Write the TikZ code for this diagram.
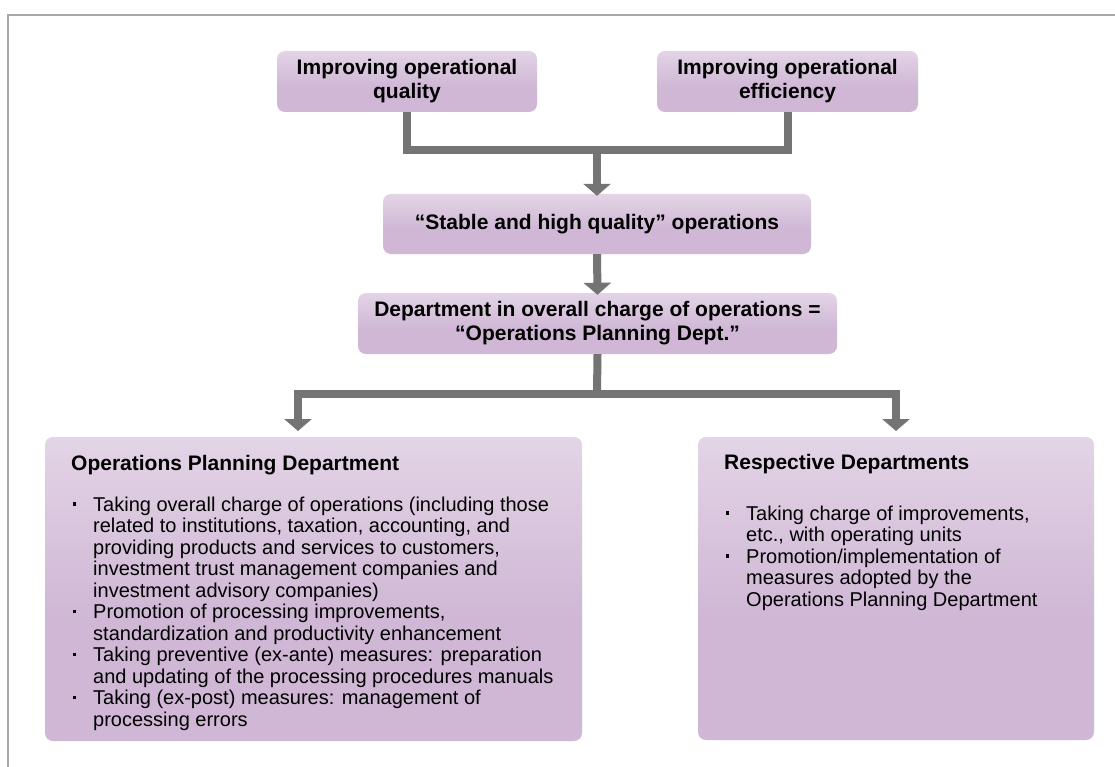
\documentclass[tikz,border=0pt]{standalone}
\usepackage{fontspec}
\setmainfont{Liberation Sans}
\usetikzlibrary{arrows.meta}

\definecolor{boxtop}{HTML}{F4ECF4}
\definecolor{boxbot}{HTML}{CFB7D5}
\definecolor{linkgray}{HTML}{747474}
\definecolor{framegray}{HTML}{A8A8A8}

\pgfdeclareverticalshading{panelshade}{100bp}{%
  color(0bp)=(boxbot); color(45bp)=(boxbot); color(100bp)=(boxtop)}

% small square bullet
\newcommand\bmark{\rule[5.5pt]{3.2pt}{3.2pt}}
% one bulleted paragraph, lines broken by hand with \\
\newcommand\bpara[1]{\noindent\hangindent=22pt\hangafter=1
  \makebox[22pt][l]{\hspace{2pt}\bmark}#1\par}
\newcommand\headfont{\bfseries\fontsize{21}{24}\selectfont}
\newcommand\bodyfont{\fontsize{20}{21.5}\selectfont}

\begin{document}
\begin{tikzpicture}[x=1pt,y=-1pt,
  panel/.style={rounded corners=8pt, shading=panelshade, inner sep=0pt,
    align=center, font=\headfont},
  link/.style={draw=linkgray, line width=8pt},
  tip/.style={-{Triangle[width=27pt,length=12pt]}}]

\useasboundingbox (0,0) rectangle (1115,767);
\fill[white] (0,0) rectangle (1115,767);

% outer frame (top and left edges only)
\draw[framegray, line width=1.2pt] (8,767) -- (8,15) -- (1115,15);

% boxes
\node[panel, minimum width=260pt, minimum height=61pt] (qual) at (407,81.5)
  {Improving operational\\quality};
\node[panel, minimum width=261pt, minimum height=61pt] (effi) at (787.5,81.5)
  {Improving operational\\efficiency};
\node[panel, minimum width=428pt, minimum height=60pt] (stab) at (597,224)
  {“Stable and high quality” operations};
\node[panel, minimum width=479pt, minimum height=61pt] (dept) at (597.5,323.5)
  {Department in overall charge of operations =\\“Operations Planning Dept.”};
\node[panel, minimum width=537pt, minimum height=304pt] (opd) at (313.5,589) {};
\node[panel, minimum width=396pt, minimum height=303pt] (resp) at (896,588.5) {};

% box contents
\node[anchor=base west, inner sep=0pt] (opdtext) at (71,470) {\parbox[t]{500pt}{%
  \parindent=0pt
  {\headfont Operations Planning Department}\par
  \bodyfont\vspace{19.5pt}
  \bpara{Taking overall charge of operations (including those\\
    related to institutions, taxation, accounting, and\\
    providing products and services to customers,\\
    investment trust management companies and\\
    investment advisory companies)}
  \bpara{Promotion of processing improvements,\\
    standardization and productivity enhancement}
  \bpara{Taking preventive (ex-ante) measures: preparation\\
    and updating of the processing procedures manuals}
  \bpara{Taking (ex-post) measures: management of\\
    processing errors}}};

\node[anchor=base west, inner sep=0pt] (resptext) at (724,469) {\parbox[t]{360pt}{%
  \parindent=0pt
  {\headfont Respective Departments}\par
  \bodyfont\vspace{29.5pt}
  \bpara{Taking charge of improvements,\\
    etc., with operating units}
  \bpara{Promotion/implementation of\\
    measures adopted by the\\
    Operations Planning Department}}};

% junctions and arrow ends
\coordinate (top join) at (597,150);
\coordinate (mid join) at (597,393.5);
\coordinate (left end) at (298,431);
\coordinate (right end) at (896,431);

% connectors
\draw[link] (qual.south) |- (effi.south |- top join) -- (effi.south);
\draw[link, tip] (top join) -- ([yshift=-2pt]stab.north);
\draw[link, tip] (stab.south) -- ([yshift=-2pt]dept.north);
\draw[link] (dept.south) -- (mid join);
\draw[link, tip] (mid join) -| (left end);
\draw[link, tip] (mid join) -| (right end);
\end{tikzpicture}
\end{document}
